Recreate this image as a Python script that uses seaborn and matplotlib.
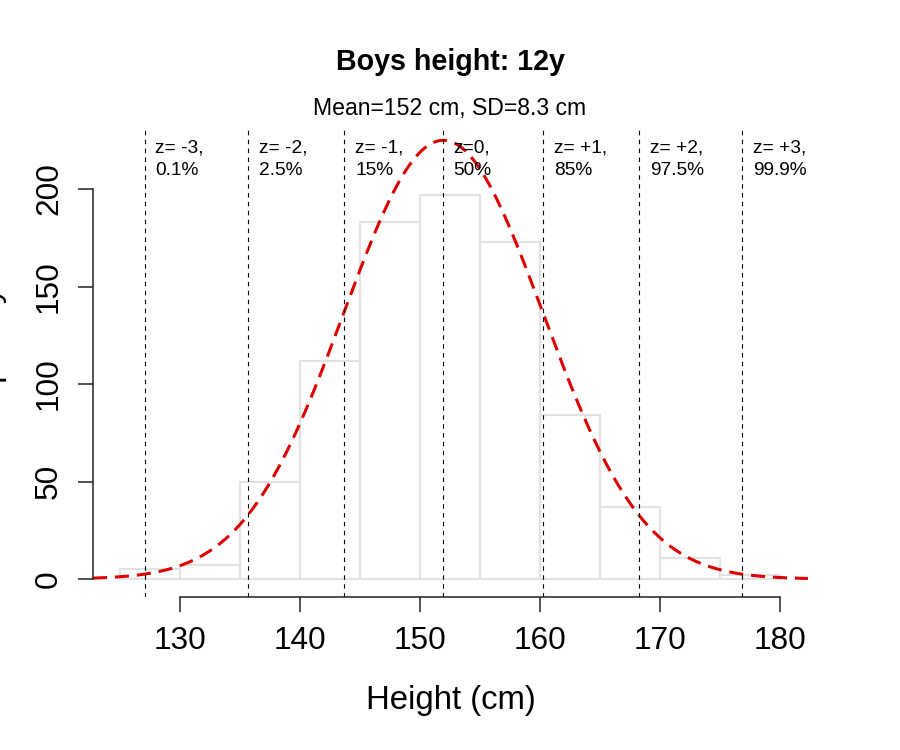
import numpy as np
import pandas as pd
import seaborn as sns
import matplotlib
matplotlib.use("Agg")
import matplotlib.pyplot as plt

# histogram of boys' height at 12 years (counts per 5 cm bin)
bin_edges = [125, 130, 135, 140, 145, 150, 155, 160, 165, 170, 175, 180]
counts = [5, 7, 50, 112, 183, 197, 173, 84, 37, 11, 2]

mean_height = 151.95
sd_height = 8.3
curve_peak = 225  # height of the fitted normal curve at the mean

# where the dashed z lines sit (cm)
z_line_heights = [127.05, 135.7, 143.7, 151.9, 160.25, 168.25, 176.85]
z_labels = ["z= -3,\n0.1%", "z= -2,\n2.5%", "z= -1,\n15%", "z=0,\n50%",
            "z= +1,\n85%", "z= +2,\n97.5%", "z= +3,\n99.9%"]

x_ticks = [130, 140, 150, 160, 170, 180]
y_ticks = [0, 50, 100, 150, 200]

sns.set_style("white")
plt.rcParams["font.family"] = ["Liberation Sans", "DejaVu Sans"]
plt.rcParams["text.color"] = "black"
plt.rcParams["axes.labelcolor"] = "black"
plt.rcParams["xtick.color"] = "black"
plt.rcParams["ytick.color"] = "black"

hist_df = pd.DataFrame({
    "height": [(a + b) / 2 for a, b in zip(bin_edges[:-1], bin_edges[1:])],
    "count": counts,
})

fig = plt.figure(figsize=(9, 7.5), dpi=100)
ax = fig.add_axes([0.1033, 0.204, 0.7944, 0.6227])

sns.histplot(data=hist_df, x="height", weights="count", bins=bin_edges,
             fill=False, color="#e2e2e2", linewidth=1.5, ax=ax)

# normal curve
x_grid = np.linspace(122.75, 182.33, 400)
curve = curve_peak * np.exp(-0.5 * ((x_grid - mean_height) / sd_height) ** 2)
sns.lineplot(x=x_grid, y=curve, color="#dd0000", linewidth=2.2,
             linestyle=(0, (4.6, 2.6)), ax=ax)

# z-score lines and labels
for xpos, lab in zip(z_line_heights, z_labels):
    ax.axvline(xpos, color="black", linewidth=0.8, linestyle=(0, (4, 4)))
    ax.text(xpos + 0.9, 225.5, lab, ha="left", va="top", fontsize=13.8,
            linespacing=1.4)

ax.set_xlim(122.75, 182.33)
ax.set_ylim(-9.23, 230.3)

for s in ["top", "right"]:
    ax.spines[s].set_visible(False)
ax.spines["left"].set_bounds(0, 200)
ax.spines["bottom"].set_bounds(130, 180)
for s in ["left", "bottom"]:
    ax.spines[s].set_color("#222222")
    ax.spines[s].set_linewidth(1.1)

ax.set_xticks(x_ticks)
ax.set_yticks(y_ticks)
ax.tick_params(axis="both", direction="out", length=10.8, width=1.1,
               color="#222222", labelsize=22.8, pad=10, left=True, bottom=True)
for lab in ax.get_yticklabels():
    lab.set_rotation(90)
    lab.set_va("center")

ax.set_xlabel("Height (cm)", fontsize=23.7, labelpad=21)
ax.set_ylabel("")

fig.text(4 / 900, 1 - 362 / 750, "Frequency", rotation=90, ha="right",
         va="center", fontsize=24)

fig.text(0.5, 1 - 62 / 750, "Boys height: 12y", ha="center", va="center",
         fontsize=20.6, fontweight="bold")
fig.text(0.5, 1 - 109 / 750, "Mean=152 cm, SD=8.3 cm", ha="center",
         va="center", fontsize=16.6)

fig.savefig("out.png", dpi=100)
